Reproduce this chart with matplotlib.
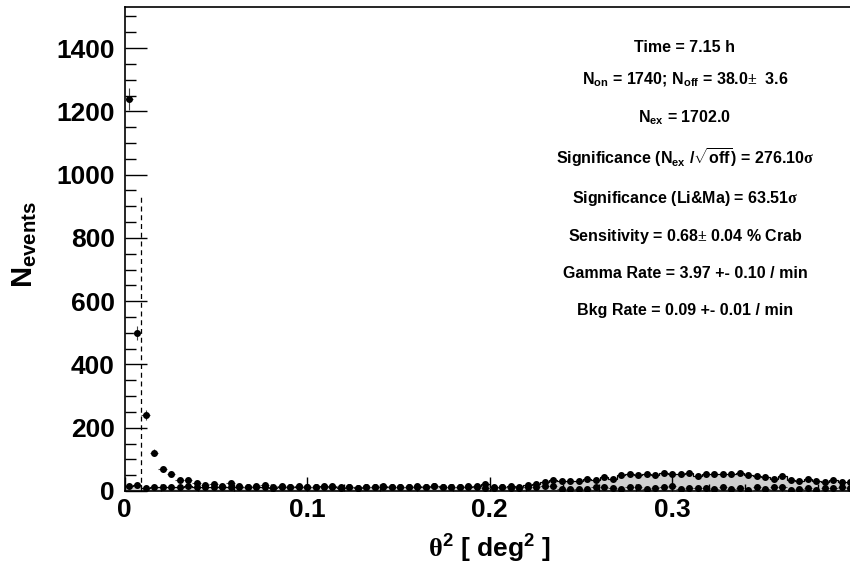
#%% Bibliotheken

import numpy as np
import matplotlib
matplotlib.use("Agg")
import matplotlib.pyplot as plt
from matplotlib.ticker import MultipleLocator

#%% Daten: theta^2-Verteilung, On- und Off-Ereignisse pro Bin

theta2_min = 0.0
theta2_max = 0.4
n_bins = 86

n_on = [1240, 500, 240, 121, 68, 55, 34, 34, 24, 20,
        22, 16, 24, 15, 14, 16, 18, 14, 16, 14,
        15, 12, 14, 13, 16, 12, 14, 10, 14, 12,
        16, 13, 14, 12, 15, 13, 16, 12, 14, 12,
        16, 12, 9, 10, 14, 10, 8, 14, 14, 17,
        17, 6, 6, 6, 7, 12, 12, 8, 6, 12,
        12, 5, 8, 12, 17, 6, 8, 9, 9, 6,
        12, 6, 9, 3, 14, 6, 12, 12, 3, 6,
        8, 3, 8, 8, 12, 10]

n_off = [16, 20, 8, 14, 14, 14, 14, 16, 12, 14,
         14, 12, 12, 13, 14, 12, 14, 10, 12, 12,
         14, 12, 14, 16, 12, 8, 12, 9, 14, 12,
         14, 14, 12, 14, 14, 12, 15, 14, 13, 12,
         13, 15, 22, 14, 14, 15, 14, 18, 22, 29,
         35, 32, 33, 32, 39, 36, 44, 38, 50, 53,
         50, 53, 50, 57, 53, 53, 57, 48, 53, 53,
         53, 53, 57, 50, 47, 43, 39, 48, 35, 33,
         37, 33, 29, 35, 28, 30]

theta2_cut = 0.009
cut_height = 930

info_lines = [
    r"Time = 7.15 h",
    r"N$_{on}$ = 1740; N$_{off}$ = 38.0$\mathrm{\pm}$  3.6",
    r"N$_{ex}$ = 1702.0",
    r"Significance (N$_{ex}$ /$\sqrt{off}$) = 276.10$\mathrm{\sigma}$",
    r"Significance (Li&Ma) = 63.51$\mathrm{\sigma}$",
    r"Sensitivity = 0.68$\mathrm{\pm}$ 0.04 % Crab",
    r"Gamma Rate = 3.97 +- 0.10 / min",
    r"Bkg Rate = 0.09 +- 0.01 / min",
]

#%% Schrift

plt.rcParams["font.family"] = ["Liberation Sans", "DejaVu Sans"]
plt.rcParams["font.weight"] = "bold"
plt.rcParams["mathtext.fontset"] = "custom"
plt.rcParams["mathtext.rm"] = "Liberation Serif"
plt.rcParams["mathtext.it"] = "Liberation Sans:bold"
plt.rcParams["mathtext.bf"] = "Liberation Sans:bold"
plt.rcParams["mathtext.sf"] = "Liberation Sans:bold"
plt.rcParams["mathtext.default"] = "bf"

#%% Histogramme zeichnen

edges = np.linspace(theta2_min, theta2_max, n_bins + 1)
centers = 0.5 * (edges[:-1] + edges[1:])
half_width = 0.5 * (edges[1] - edges[0])
on = np.asarray(n_on, dtype=float)
off = np.asarray(n_off, dtype=float)

# Achse geht bis knapp unter 0.4, rechter Rand liegt am Bildrand
x_right = 0.3975
fig = plt.figure(figsize=(8.5, 5.69), dpi=100)
ax = fig.add_axes([124.5 / 850, 78 / 569, (850 - 124.5) / 850, 484 / 569])

# Off-Verteilung als graue Flaeche mit schwarzer Kontur
ax.stairs(off, edges, fill=True, color="#cfcfcf", zorder=1)
ax.stairs(off, edges, color="black", linewidth=0.9, zorder=2)
eb_off = ax.errorbar(centers, off, yerr=np.sqrt(off), fmt="o", color="black",
                     markersize=4, elinewidth=0.7, capsize=0, zorder=3)
eb_off[2][0].set_linestyle(":")

# On-Ereignisse als Punkte mit Fehlerbalken
ax.errorbar(centers, on, yerr=np.sqrt(on), xerr=half_width, fmt="o",
            color="black", ecolor="#444444", markersize=4, elinewidth=0.8,
            capsize=0, zorder=4)

# theta^2-Schnitt
ax.plot([theta2_cut, theta2_cut], [0, cut_height], color="black",
        linestyle=(0, (4, 3)), linewidth=0.9, zorder=2)

#%% Achsen

ax.set_xlim(theta2_min, x_right)
ax.set_ylim(0, 1530)

ax.xaxis.set_major_locator(MultipleLocator(0.1))
ax.xaxis.set_minor_locator(MultipleLocator(0.02))
ax.yaxis.set_major_locator(MultipleLocator(200))
ax.yaxis.set_minor_locator(MultipleLocator(50))
ax.xaxis.set_major_formatter(lambda v, p: "0" if abs(v) < 1e-9 else f"{v:.1f}")

ax.tick_params(axis="both", which="both", direction="in", top=False,
               right=False, width=1.0, labelsize=19)
ax.tick_params(axis="y", which="major", length=16, pad=7)
ax.tick_params(axis="y", which="minor", length=8)
ax.tick_params(axis="x", which="major", length=10, pad=5)
ax.tick_params(axis="x", which="minor", length=5)
for lab in ax.get_xticklabels() + ax.get_yticklabels():
    lab.set_fontweight("bold")

for side in ["left", "bottom", "top"]:
    ax.spines[side].set_linewidth(1.2)
ax.spines["right"].set_visible(False)

ax.set_xlabel(r"$\mathrm{\theta}^{2}$ [ deg$^{2}$ ]", fontsize=19,
              fontweight="bold")
ax.xaxis.set_label_coords((490 - 124.5) / (850 - 124.5), -0.087)
ax.set_ylabel(r"N$_{events}$", fontsize=21, fontweight="bold")
ax.yaxis.set_label_coords(-0.118, 0.51)

#%% Infotext

text_y = [48, 80, 118, 158, 199, 237, 274, 311]
for line, ypix in zip(info_lines, text_y):
    ax.text((685 - 124.5) / (850 - 124.5), (491 - ypix) / 484, line,
            transform=ax.transAxes, ha="center", va="center",
            fontsize=11.5, fontweight="bold")

fig.savefig("out.png", dpi=100)
